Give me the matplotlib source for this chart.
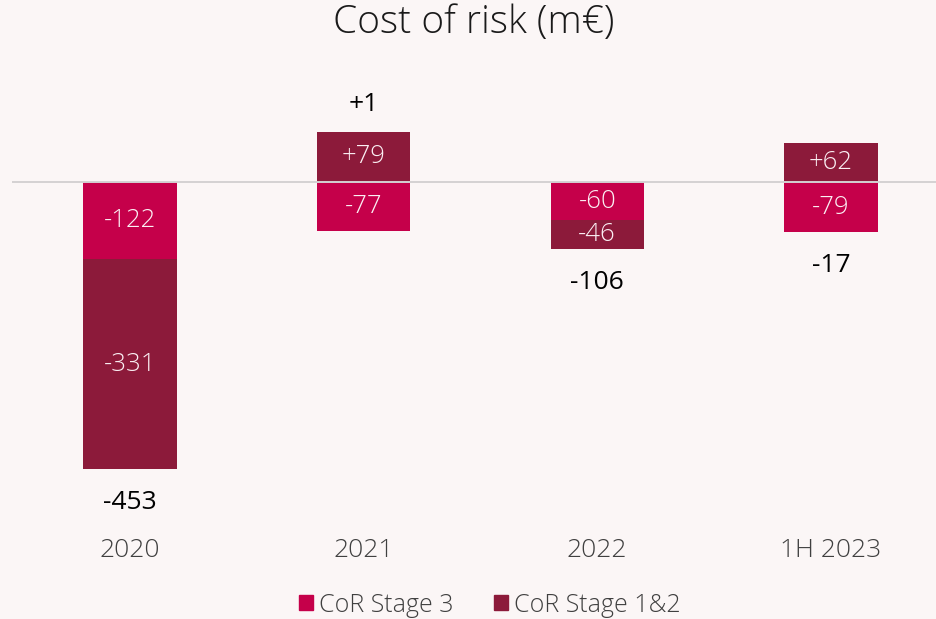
import matplotlib.pyplot as plt
import numpy as np

categories = ["2020", "2021", "2022", "1H 2023"]
stage3 = [-122, -77, -60, -79]
stage12 = [-331, 79, -46, 62]
totals = [-453, 1, -106, -17]
series_names = ["CoR Stage 3", "CoR Stage 1&2"]
title = "Cost of risk (m\u20ac)"

col_s3 = "#c5004a"
col_s12 = "#8c1a3a"
bg = "#fbf6f6"
FONT = ["Open Sans", "DejaVu Sans"]

fig = plt.figure(figsize=(9.36, 6.19), dpi=100, facecolor=bg)
ax = fig.add_axes([12 / 936, 1 - 520 / 619, 1 - 12 / 936, (520 - 60) / 619])
ax.set_facecolor(bg)

x = np.arange(len(categories))
width = 0.40
series = [stage3, stage12]
colors = [col_s3, col_s12]

pos_bottom = np.zeros(len(categories))
neg_bottom = np.zeros(len(categories))
for vals, c in zip(series, colors):
    vals = np.array(vals, dtype=float)
    bottoms = np.where(vals >= 0, pos_bottom, neg_bottom)
    ax.bar(x, vals, width, bottom=bottoms, color=c, edgecolor=c,
           linewidth=0.0, zorder=2)
    for xi, v, b in zip(x, vals, bottoms):
        label = f"+{int(v)}" if v > 0 else f"{int(v)}"
        ax.text(xi, b + v / 2, label, ha="center", va="center", color="#fbeff3",
                fontsize=18.5, family=FONT, fontweight="light", zorder=3)
    pos_bottom = pos_bottom + np.where(vals >= 0, vals, 0)
    neg_bottom = neg_bottom + np.where(vals < 0, vals, 0)

for xi, t, top, bot in zip(x, totals, pos_bottom, neg_bottom):
    label = f"+{int(t)}" if t > 0 else f"{int(t)}"
    if t >= 0:
        ax.annotate(label, (xi, top), xytext=(0, 20), textcoords="offset points",
                    ha="center", va="center", fontsize=19, family=FONT, color="black")
    else:
        ax.annotate(label, (xi, bot), xytext=(0, -24), textcoords="offset points",
                    ha="center", va="center", fontsize=19, family=FONT, color="black")

ax.axhline(0, color="#d4d2d3", linewidth=1.4, zorder=2.5)

ax.set_xlim(-0.505, 3.45)
ax.set_ylim(-533, 192.4)
for s in ax.spines.values():
    s.set_visible(False)
ax.set_xticks([])
ax.set_yticks([])

# Category labels below the plotting area
for xi, cat in zip(x, categories):
    ax.annotate(cat, (xi, 0), xycoords=("data", "axes fraction"),
                xytext=(0, -22), textcoords="offset points", ha="center",
                va="center", fontsize=19, family=FONT, fontweight="light",
                color="#404040")

fig.text(474 / 936, 1 - 23 / 619, title, ha="center", va="center", fontsize=28,
         family=FONT, fontweight="light", color="#1a1a1a")

handles = [plt.Rectangle((0, 0), 1, 1, color=c) for c in colors]
fig.legend(handles, series_names, loc="center", bbox_to_anchor=(490 / 936, 1 - 605 / 619),
           ncol=2, frameon=False, handlelength=0.55, handleheight=0.55,
           handletextpad=0.25, columnspacing=1.6,
           prop={"family": FONT, "size": 18, "weight": "light"},
           labelcolor="#404040")

fig.savefig("out.png", dpi=100, facecolor=bg)
